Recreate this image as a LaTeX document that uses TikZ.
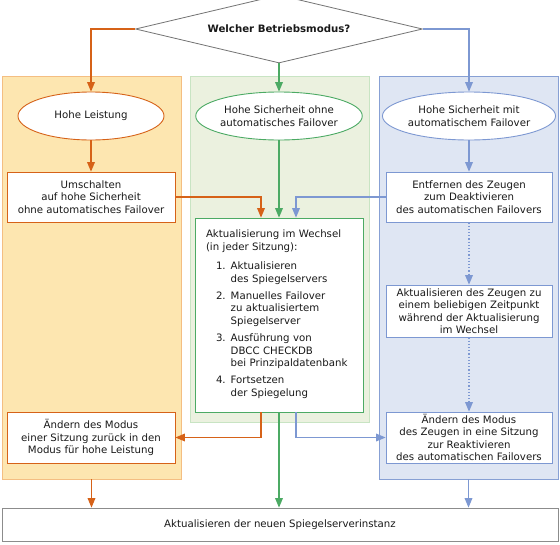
\documentclass[tikz,border=0pt]{standalone}
\usepackage{fontspec}
\setmainfont{DejaVu Sans}
\usetikzlibrary{arrows}
\usetikzlibrary{positioning}
\usetikzlibrary{shapes.geometric}
\definecolor{morange}{RGB}{214, 98, 24}
\definecolor{mgreen}{RGB}{76, 170, 100}
\definecolor{mblue}{RGB}{125, 152, 210}
\definecolor{olanefill}{RGB}{253, 230, 176}
\definecolor{olanedraw}{RGB}{244, 190, 130}
\definecolor{glanefill}{RGB}{235, 241, 223}
\definecolor{glanedraw}{RGB}{200, 228, 195}
\definecolor{blanefill}{RGB}{223, 230, 243}
\definecolor{blanedraw}{RGB}{135, 160, 212}
\definecolor{mtext}{RGB}{25, 25, 25}
\tikzset{lane/.style = {rectangle, inner sep = 0, line width = 0.9},
  modus/.style = {ellipse, fill = white, line width = 0.9, minimum width = 146, minimum height = 48, inner sep = 0, align = center},
  obox/.style = {rectangle, fill = white, draw = morange, line width = 0.9, align = center, inner sep = 0},
  gbox/.style = {rectangle, fill = white, draw = mgreen, line width = 0.9, inner sep = 0},
  bbox/.style = {rectangle, fill = white, draw = mblue, line width = 0.9, align = center, inner sep = 0},
  oarr/.style = {draw = morange, line width = 1.2, -triangle 45},
  garr/.style = {draw = mgreen, line width = 1.2, -triangle 45},
  barr/.style = {draw = mblue, line width = 1.2, -triangle 45}}

\begin{document}
\begin{tikzpicture}[x = 1pt, y = -1pt, font = \fontsize{10.2}{12.4}\selectfont, text = mtext]
  \useasboundingbox (0, 0) rectangle (560, 544);
  % lanes
  \node [lane, fill = olanefill, draw = olanedraw, minimum width = 179, minimum height = 403] (olane) at (91.5, 277.5) {};
  \node [lane, fill = glanefill, draw = glanedraw, minimum width = 179, minimum height = 346] (glane) at (279.5, 249) {};
  \node [lane, fill = blanefill, draw = blanedraw, minimum width = 179, minimum height = 403] (blane) at (468.5, 277.5) {};
  % question
  \node [diamond, draw = black!55, fill = white, line width = 0.8, aspect = 4.2, minimum width = 287, minimum height = 68, inner sep = 0] (frage) at (279, 29) {\bfseries Welcher Betriebsmodus?};
  % modes
  \node [modus, draw = morange] (leistung) at (91, 116) {Hohe Leistung};
  \node [modus, draw = mgreen] (ohne) at (279, 116) {Hohe Sicherheit ohne\\automatisches Failover};
  \node [modus, draw = mblue] (mit) at (469, 116) {Hohe Sicherheit mit\\automatischem Failover};
  % steps
  \node [obox, minimum width = 168, minimum height = 50] (umsch) at (91, 197) {Umschalten\\auf hohe Sicherheit\\ohne automatisches Failover};
  \node [bbox, minimum width = 166, minimum height = 50] (entf) at (469, 197) {Entfernen des Zeugen\\zum Deaktivieren\\des automatischen Failovers};
  \node [gbox, minimum width = 168, minimum height = 194, inner xsep = 11, text width = 146, align = left] (wechsel) at (279, 315)
    {Aktualisierung im Wechsel\\(in jeder Sitzung):\\[7pt]
     \hspace*{10pt}\begin{tabular}[t]{@{}r@{\hspace{5pt}}l@{}}
       1. & Aktualisieren\\ & des Spiegelservers\\[5pt]
       2. & Manuelles Failover\\ & zu aktualisiertem\\ & Spiegelserver\\[5pt]
       3. & Ausführung von\\ & DBCC CHECKDB\\ & bei Prinzipaldatenbank\\[5pt]
       4. & Fortsetzen\\ & der Spiegelung
     \end{tabular}};
  \node [bbox, minimum width = 166, minimum height = 52] (zeuge) at (469, 311) {Aktualisieren des Zeugen zu\\einem beliebigen Zeitpunkt\\während der Aktualisierung\\im Wechsel};
  \node [obox, minimum width = 168, minimum height = 51] (zurueck) at (91, 437.5) {Ändern des Modus\\einer Sitzung zurück in den\\Modus für hohe Leistung};
  \node [bbox, minimum width = 166, minimum height = 51] (reakt) at (469, 437.5) {Ändern des Modus\\des Zeugen in eine Sitzung\\zur Reaktivieren\\des automatischen Failovers};
  \node [rectangle, fill = white, draw = black!45, line width = 0.9, minimum width = 556, minimum height = 33, inner sep = 0] (ende) at (280, 524.5) {Aktualisieren der neuen Spiegelserverinstanz};
  % connectors
  \draw [oarr] (frage.west) -| (leistung.north);
  \draw [garr] (frage.south) -- (ohne.north);
  \draw [barr] (frage.east) -| (mit.north);
  \draw [oarr] (leistung) -- (umsch);
  \draw [garr] (ohne) -- (wechsel);
  \draw [barr] (mit) -- (entf);
  \draw [oarr] (umsch.east) -| ([xshift = -18]wechsel.north);
  \draw [barr] (entf.west) -| ([xshift = 17]wechsel.north);
  \draw [barr, dotted] (entf) -- (zeuge);
  \draw [barr, dotted] (zeuge) -- (reakt);
  \draw [oarr] ([xshift = -18]wechsel.south) |- (zurueck.east);
  \draw [barr] ([xshift = 17]wechsel.south) |- (reakt.west);
  \draw [garr] (wechsel.south) -- (wechsel.south |- ende.north);
  \draw [oarr] (olane.south) -- (olane.south |- ende.north);
  \draw [barr] (blane.south) -- (blane.south |- ende.north);
\end{tikzpicture}
\end{document}
